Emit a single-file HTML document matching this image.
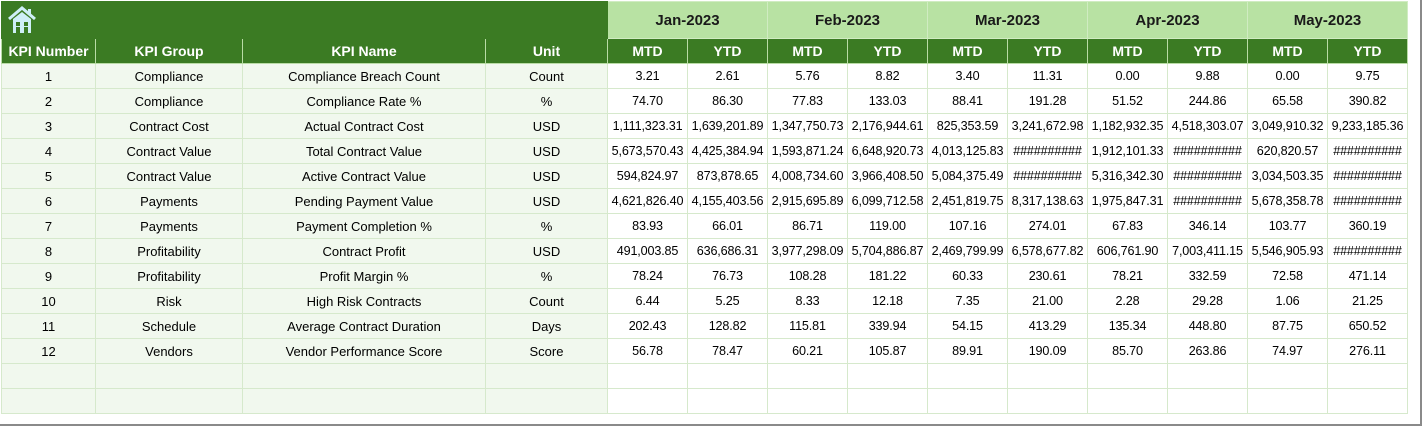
<!DOCTYPE html>
<html><head><meta charset="utf-8"><style>
body{margin:0;width:1424px;height:428px;background:#fff;position:relative;overflow:hidden;font-family:"Liberation Sans",sans-serif}
.frame{position:absolute;left:0;top:0;width:1420px;height:424px;border-right:2px solid #8a8a8a;border-bottom:2px solid #8a8a8a}
table{position:absolute;left:1px;top:1px;border-collapse:collapse;table-layout:fixed}
td{padding:0;text-align:center;white-space:nowrap;overflow:hidden;border:1px solid #d6e9cc;font-size:13px;color:#000;height:24px}
.h1 td{height:36px}
.dk{background:#3b7b23;color:#fff;font-weight:bold;font-size:14px;border-color:#b9dca6}
.lt{background:#b8e2a3;color:#1a1a1a;font-weight:bold;font-size:15px;border-color:#d0ecc2}
.g td:nth-child(-n+4){background:#f1f8ee}
.g td:nth-child(n+5){font-size:12.6px;letter-spacing:-0.15px}
</style></head><body>
<div class="frame"></div>
<table>
<colgroup><col style="width:94px"><col style="width:147px"><col style="width:243px"><col style="width:122px">
<col style="width:80px"><col style="width:80px"><col style="width:80px"><col style="width:80px"><col style="width:80px"><col style="width:80px"><col style="width:80px"><col style="width:80px"><col style="width:80px"><col style="width:80px"></colgroup>
<tr class="h1"><td class="dk" colspan="4" style="text-align:left;border-color:#3b7b23"><svg width="34" height="30" viewBox="0 0 34 30" style="display:block;margin-left:4px"><path d="M3 14 L16 3 L29 14" fill="none" stroke="#cfeff7" stroke-width="3"/><rect x="22" y="4" width="3" height="6" fill="#cfeff7"/><path d="M7 14 L16 7 L25 14 V28 H7Z" fill="#cfeff7"/><rect x="10" y="17" width="4" height="4" fill="#3b7b23"/><rect x="18" y="17" width="4" height="4" fill="#3b7b23"/><rect x="10" y="22" width="4" height="6" fill="#3b7b23"/><rect x="18" y="22" width="4" height="6" fill="#3b7b23"/></svg></td>
<td class="lt" colspan="2">Jan-2023</td><td class="lt" colspan="2">Feb-2023</td><td class="lt" colspan="2">Mar-2023</td><td class="lt" colspan="2">Apr-2023</td><td class="lt" colspan="2">May-2023</td></tr>
<tr><td class="dk">KPI Number</td><td class="dk">KPI Group</td><td class="dk">KPI Name</td><td class="dk">Unit</td><td class="dk">MTD</td><td class="dk">YTD</td><td class="dk">MTD</td><td class="dk">YTD</td><td class="dk">MTD</td><td class="dk">YTD</td><td class="dk">MTD</td><td class="dk">YTD</td><td class="dk">MTD</td><td class="dk">YTD</td></tr>
<tr class="g"><td>1</td><td>Compliance</td><td>Compliance Breach Count</td><td>Count</td><td>3.21</td><td>2.61</td><td>5.76</td><td>8.82</td><td>3.40</td><td>11.31</td><td>0.00</td><td>9.88</td><td>0.00</td><td>9.75</td></tr>
<tr class="g"><td>2</td><td>Compliance</td><td>Compliance Rate %</td><td>%</td><td>74.70</td><td>86.30</td><td>77.83</td><td>133.03</td><td>88.41</td><td>191.28</td><td>51.52</td><td>244.86</td><td>65.58</td><td>390.82</td></tr>
<tr class="g"><td>3</td><td>Contract Cost</td><td>Actual Contract Cost</td><td>USD</td><td>1,111,323.31</td><td>1,639,201.89</td><td>1,347,750.73</td><td>2,176,944.61</td><td>825,353.59</td><td>3,241,672.98</td><td>1,182,932.35</td><td>4,518,303.07</td><td>3,049,910.32</td><td>9,233,185.36</td></tr>
<tr class="g"><td>4</td><td>Contract Value</td><td>Total Contract Value</td><td>USD</td><td>5,673,570.43</td><td>4,425,384.94</td><td>1,593,871.24</td><td>6,648,920.73</td><td>4,013,125.83</td><td>##########</td><td>1,912,101.33</td><td>##########</td><td>620,820.57</td><td>##########</td></tr>
<tr class="g"><td>5</td><td>Contract Value</td><td>Active Contract Value</td><td>USD</td><td>594,824.97</td><td>873,878.65</td><td>4,008,734.60</td><td>3,966,408.50</td><td>5,084,375.49</td><td>##########</td><td>5,316,342.30</td><td>##########</td><td>3,034,503.35</td><td>##########</td></tr>
<tr class="g"><td>6</td><td>Payments</td><td>Pending Payment Value</td><td>USD</td><td>4,621,826.40</td><td>4,155,403.56</td><td>2,915,695.89</td><td>6,099,712.58</td><td>2,451,819.75</td><td>8,317,138.63</td><td>1,975,847.31</td><td>##########</td><td>5,678,358.78</td><td>##########</td></tr>
<tr class="g"><td>7</td><td>Payments</td><td>Payment Completion %</td><td>%</td><td>83.93</td><td>66.01</td><td>86.71</td><td>119.00</td><td>107.16</td><td>274.01</td><td>67.83</td><td>346.14</td><td>103.77</td><td>360.19</td></tr>
<tr class="g"><td>8</td><td>Profitability</td><td>Contract Profit</td><td>USD</td><td>491,003.85</td><td>636,686.31</td><td>3,977,298.09</td><td>5,704,886.87</td><td>2,469,799.99</td><td>6,578,677.82</td><td>606,761.90</td><td>7,003,411.15</td><td>5,546,905.93</td><td>##########</td></tr>
<tr class="g"><td>9</td><td>Profitability</td><td>Profit Margin %</td><td>%</td><td>78.24</td><td>76.73</td><td>108.28</td><td>181.22</td><td>60.33</td><td>230.61</td><td>78.21</td><td>332.59</td><td>72.58</td><td>471.14</td></tr>
<tr class="g"><td>10</td><td>Risk</td><td>High Risk Contracts</td><td>Count</td><td>6.44</td><td>5.25</td><td>8.33</td><td>12.18</td><td>7.35</td><td>21.00</td><td>2.28</td><td>29.28</td><td>1.06</td><td>21.25</td></tr>
<tr class="g"><td>11</td><td>Schedule</td><td>Average Contract Duration</td><td>Days</td><td>202.43</td><td>128.82</td><td>115.81</td><td>339.94</td><td>54.15</td><td>413.29</td><td>135.34</td><td>448.80</td><td>87.75</td><td>650.52</td></tr>
<tr class="g"><td>12</td><td>Vendors</td><td>Vendor Performance Score</td><td>Score</td><td>56.78</td><td>78.47</td><td>60.21</td><td>105.87</td><td>89.91</td><td>190.09</td><td>85.70</td><td>263.86</td><td>74.97</td><td>276.11</td></tr>
<tr class="g"><td></td><td></td><td></td><td></td><td></td><td></td><td></td><td></td><td></td><td></td><td></td><td></td><td></td><td></td></tr>
<tr class="g"><td></td><td></td><td></td><td></td><td></td><td></td><td></td><td></td><td></td><td></td><td></td><td></td><td></td><td></td></tr>
</table>
</body></html>
